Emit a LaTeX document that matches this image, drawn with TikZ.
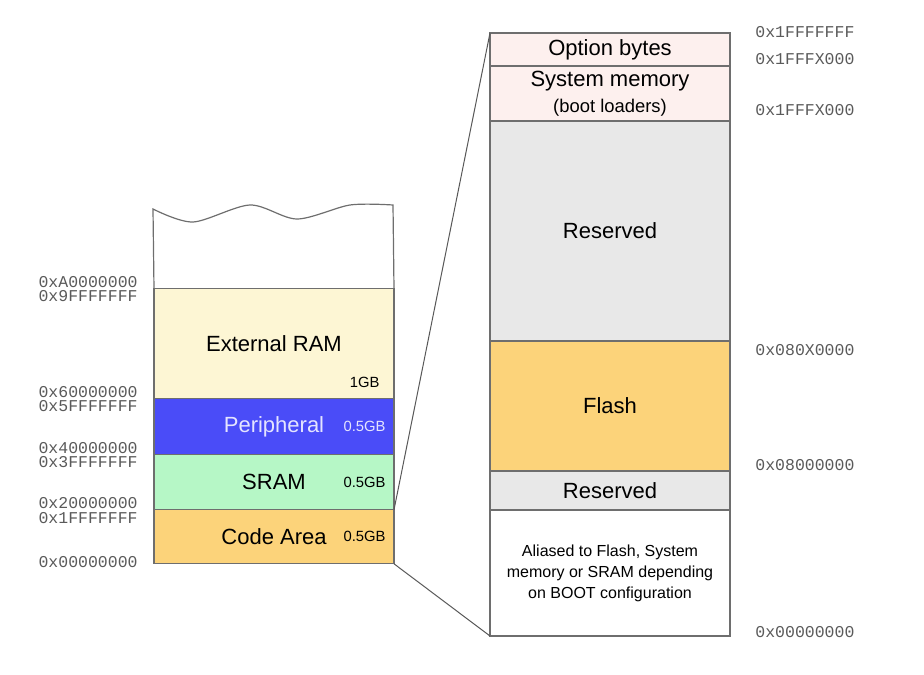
\documentclass[tikz,border=0pt]{standalone}
\usepackage{fontspec}
\setmainfont{Liberation Sans}
\setmonofont{Liberation Mono}
\usetikzlibrary{
  matrix
}
\definecolor{edgegray}{RGB}{110,110,110}
\definecolor{addrgray}{RGB}{90,90,90}
\definecolor{extram}{RGB}{253,246,212}
\definecolor{periph}{RGB}{74,76,248}
\definecolor{periphtext}{RGB}{228,228,255}
\definecolor{sramgreen}{RGB}{182,247,198}
\definecolor{codeorange}{RGB}{252,211,122}
\definecolor{sysrose}{RGB}{253,240,238}
\definecolor{resgray}{RGB}{232,232,232}

\begin{document}
\begin{tikzpicture}[
  x=0.5pt,
  y=-0.5pt,
  block/.style={
    draw=edgegray,
    line width=0.6pt,
    rectangle,
    minimum width=120pt,
    inner sep=0pt,
    outer sep=0pt,
    font=\fontsize{11}{13}\selectfont
  },
  plain/.style={
    draw=none,
    fill=none,
  },
  gbsize/.style={
    inner sep=0pt,
    font=\fontsize{7.4}{9}\selectfont
  },
  addr/.style={
    inner sep=0pt,
    text=addrgray,
    font=\ttfamily\fontsize{8.25}{9}\selectfont
  },
  link/.style={
    draw=edgegray!80!black,
    line width=0.5pt
  },
  memmap/.style={
    matrix of nodes,
    nodes={block},
    nodes in empty cells,
    inner sep=0pt,
    row sep=-0.6pt
  }
]
\useasboundingbox (0,0) rectangle (924,674);

\matrix[memmap, anchor=north west] (leftmap) at (153,209) {
  |[plain, minimum height=40pt]| \\
  |[fill=extram, minimum height=55pt]| External RAM \\
  |[fill=periph, text=periphtext, minimum height=28pt]| Peripheral \\
  |[fill=sramgreen, minimum height=27.5pt]| SRAM \\
  |[fill=codeorange, minimum height=27pt]| Code Area \\
};

\matrix[memmap, anchor=north west] (rightmap) at (489,32) {
  |[fill=sysrose, minimum height=16.5pt]| Option bytes \\
  |[fill=sysrose, minimum height=27.5pt]| \parbox{110pt}{\centering System memory\\{\fontsize{9.2}{11}\selectfont (boot loaders)}} \\
  |[fill=resgray, minimum height=110pt]| Reserved \\
  |[fill=codeorange, minimum height=65pt]| Flash \\
  |[fill=resgray, minimum height=19.5pt]| Reserved \\
  |[fill=white, minimum height=63pt]| \parbox{110pt}{\centering\fontsize{8}{10.5}\selectfont Aliased to Flash, System\\memory or SRAM depending\\on BOOT configuration} \\
};

% Open top of the map
\draw[draw=edgegray, line width=0.6pt] (leftmap-1-1.south west)
  -- plot[smooth] coordinates {(153,209) (193,222) (250,205) (297,219) (350,205) (393,205)}
  -- (leftmap-1-1.south east);

% Sizes
\node[gbsize, anchor=south east] (ram size) at ([xshift=-7pt,yshift=5.5pt]leftmap-2-1.south east) {1GB};
\node[gbsize, anchor=east, text=periphtext] (periph size) at ([xshift=-4pt]leftmap-3-1.east) {0.5GB};
\node[gbsize, anchor=east] (sram size) at ([xshift=-4pt]leftmap-4-1.east) {0.5GB};
\node[gbsize, anchor=east] (code size) at ([xshift=-4pt]leftmap-5-1.east) {0.5GB};

% Addresses left
\node[addr, anchor=east] (a9) at ([xshift=-8pt,yshift=3.5pt]leftmap-2-1.north west) {0xA0000000};
\node[addr, anchor=east] (a8) at ([xshift=-8pt,yshift=-3.5pt]leftmap-2-1.north west) {0x9FFFFFFF};
\node[addr, anchor=east] (a7) at ([xshift=-8pt,yshift=3.5pt]leftmap-3-1.north west) {0x60000000};
\node[addr, anchor=east] (a6) at ([xshift=-8pt,yshift=-3.5pt]leftmap-3-1.north west) {0x5FFFFFFF};
\node[addr, anchor=east] (a5) at ([xshift=-8pt,yshift=3.5pt]leftmap-4-1.north west) {0x40000000};
\node[addr, anchor=east] (a4) at ([xshift=-8pt,yshift=-3.5pt]leftmap-4-1.north west) {0x3FFFFFFF};
\node[addr, anchor=east] (a3) at ([xshift=-8pt,yshift=3.5pt]leftmap-5-1.north west) {0x20000000};
\node[addr, anchor=east] (a2) at ([xshift=-8pt,yshift=-4pt]leftmap-5-1.north west) {0x1FFFFFFF};
\node[addr, anchor=east] (a1) at ([xshift=-8pt,yshift=1pt]leftmap-5-1.south west) {0x00000000};

% Addresses right
\node[addr, anchor=west] (b6) at ([xshift=12.5pt,yshift=0.5pt]rightmap-1-1.north east) {0x1FFFFFFF};
\node[addr, anchor=west] (b5) at ([xshift=12.5pt,yshift=3.5pt]rightmap-2-1.north east) {0x1FFFX000};
\node[addr, anchor=west] (b4) at ([xshift=12.5pt,yshift=5.5pt]rightmap-3-1.north east) {0x1FFFX000};
\node[addr, anchor=west] (b3) at ([xshift=12.5pt,yshift=-4.5pt]rightmap-4-1.north east) {0x080X0000};
\node[addr, anchor=west] (b2) at ([xshift=12.5pt,yshift=3pt]rightmap-5-1.north east) {0x08000000};
\node[addr, anchor=west] (b1) at ([xshift=12.5pt,yshift=2pt]rightmap-6-1.south east) {0x00000000};

% Zoom lines
\draw[link] (leftmap-5-1.north east) -- (rightmap-1-1.north west);
\draw[link] (leftmap-5-1.south east) -- (rightmap-6-1.south west);

\end{tikzpicture}
\end{document}
